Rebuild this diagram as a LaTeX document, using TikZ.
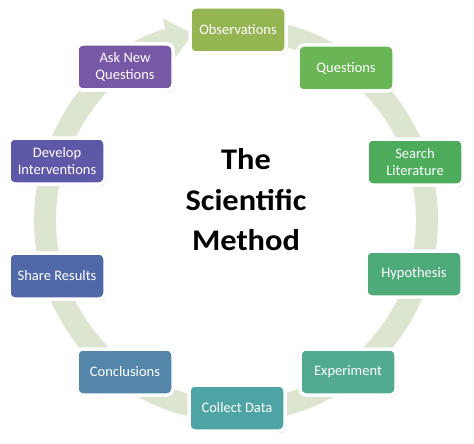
\documentclass[tikz,border=0pt]{standalone}
\usepackage{fontspec}
\setmainfont{Carlito}
\usetikzlibrary{arrows.meta,shadows}
\definecolor{ring}{HTML}{DCE5CF}
\definecolor{cobs}{HTML}{94B552}
\definecolor{cque}{HTML}{6AB556}
\definecolor{csea}{HTML}{4CAC5C}
\definecolor{chyp}{HTML}{4EAA78}
\definecolor{cexp}{HTML}{52AA90}
\definecolor{ccol}{HTML}{4EA4A4}
\definecolor{ccon}{HTML}{5486AA}
\definecolor{csha}{HTML}{5068A8}
\definecolor{cdev}{HTML}{5E58A8}
\definecolor{cask}{HTML}{7658A6}
\tikzset{
  stepbox/.style={draw=white, line width=3.5pt, rounded corners=6pt,
    minimum width=96pt, minimum height=46pt, inner sep=2pt, align=center,
    text=white, font=\fontsize{14.5}{17.5}\selectfont,
    drop shadow={opacity=0.22, shadow xshift=1.5pt, shadow yshift=-2pt}},
  titletext/.style={font=\bfseries\fontsize{30}{36}\selectfont, anchor=base, inner sep=0pt},
  ringline/.style={draw=ring, line width=22pt}
}
\begin{document}
\begin{tikzpicture}[x=1pt,y=1pt]
\useasboundingbox[fill=white] (0,0) rectangle (474,-444);
\coordinate (C) at (236,-220);
% circular arrow
\draw[ringline, -{Triangle[width=42pt,length=26pt]}, ring]
  (C) ++(80:191) arc[start angle=80, end angle=-257, radius=191];
% boxes
\node[stepbox, fill=cobs] (obs) at (238,-30) {Observations};
\node[stepbox, fill=cque] (que) at (346,-68) {Questions};
\node[stepbox, fill=csea] (sea) at (415,-162) {Search\\Literature};
\node[stepbox, fill=chyp] (hyp) at (414,-274) {Hypothesis};
\node[stepbox, fill=cexp] (exp) at (348,-372) {Experiment};
\node[stepbox, fill=ccol] (col) at (237,-408) {Collect Data};
\node[stepbox, fill=ccon] (con) at (125,-372) {Conclusions};
\node[stepbox, fill=csha] (sha) at (57,-276) {Share Results};
\node[stepbox, fill=cdev] (dev) at (57,-161) {Develop\\Interventions};
\node[stepbox, fill=cask] (ask) at (125,-67) {Ask New\\Questions};
% title
\node[titletext] (t1) at (246,-169) {\scalebox{1.08}[1]{The}};
\node[titletext] (t2) at (246,-210) {\scalebox{1.08}[1]{Scientific}};
\node[titletext] (t3) at (246,-250) {\scalebox{1.08}[1]{Method}};
\end{tikzpicture}
\end{document}
